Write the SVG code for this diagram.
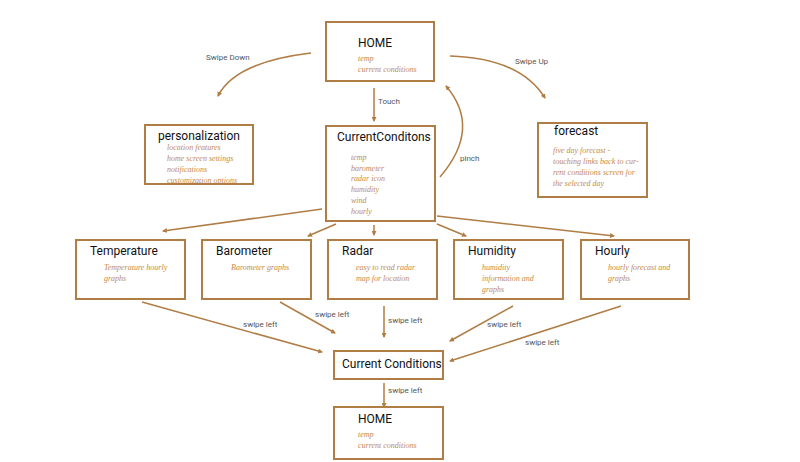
<svg xmlns="http://www.w3.org/2000/svg" width="800" height="462" viewBox="0 0 800 462">
<style>
.box{fill:#ffffff;stroke:#b07d45;stroke-width:2}
.title{font-family:Roboto,"Liberation Sans",sans-serif;font-size:12px;fill:#111111}
.sub{font-family:"Liberation Serif",serif;font-style:italic;font-size:8px;fill:#c28a4e}
.lbl{font-family:Roboto,"Liberation Sans",sans-serif;font-size:8px;fill:#555555}
.con{fill:none;stroke:#b07d45;stroke-width:1.5;marker-end:url(#ah)}
</style>
<defs>
<marker id="ah" viewBox="0 0 10 10" refX="8" refY="5" markerWidth="5" markerHeight="5" orient="auto" markerUnits="userSpaceOnUse">
<path d="M0,0 L10,5 L0,10 z" fill="#b07d45"/>
</marker>
</defs>
<rect width="800" height="462" fill="#ffffff"/>

<g id="connectors">
<path class="con" d="M311,53 Q235,62 218,96"/>
<path class="con" d="M450,56 Q520,58 545,98"/>
<path class="con" d="M440,177 Q482,128 446,86"/>
<path class="con" d="M374,88 L374,121"/>
<path class="con" d="M322,209 L163,231"/>
<path class="con" d="M336,224 L308,236"/>
<path class="con" d="M374,225 L374,235"/>
<path class="con" d="M437,224 L466,236"/>
<path class="con" d="M437,216 L614,236"/>
<path class="con" d="M142,302 L322,352"/>
<path class="con" d="M280,302 L335,333"/>
<path class="con" d="M384,306 L384,337"/>
<path class="con" d="M513,306 L450,341"/>
<path class="con" d="M621,306 L450,361"/>
<path class="con" d="M384,383 L384,407"/>
<text class="lbl" x="206" y="60">Swipe Down</text>
<text class="lbl" x="515" y="64">Swipe Up</text>
<text class="lbl" x="378" y="104">Touch</text>
<text class="lbl" x="460" y="161">pinch</text>
<text class="lbl" x="243" y="327">swipe left</text>
<text class="lbl" x="315" y="317">swipe left</text>
<text class="lbl" x="388" y="323">swipe left</text>
<text class="lbl" x="487" y="327">swipe left</text>
<text class="lbl" x="525" y="345">swipe left</text>
<text class="lbl" x="388" y="393">swipe left</text>
</g>

<g id="home-top">
<rect class="box" x="326" y="22" width="108" height="59"/>
<text class="title" x="358" y="47">HOME</text>
<text class="sub" x="358" y="61">temp</text>
<text class="sub" x="358" y="72">current conditions</text>
</g>

<g id="personalization">
<rect class="box" x="145" y="125" width="108" height="59"/>
<text class="title" x="158" y="140">personalization</text>
<text class="sub" x="167" y="150">location features</text>
<text class="sub" x="167" y="161">home screen settings</text>
<text class="sub" x="167" y="172">notifications</text>
<text class="sub" x="167" y="183">customization options</text>
</g>

<g id="current-conditons">
<rect class="box" x="326" y="126" width="109" height="95"/>
<text class="title" x="337" y="141">CurrentConditons</text>
<text class="sub" x="351" y="160">temp</text>
<text class="sub" x="351" y="171">barometer</text>
<text class="sub" x="351" y="181">radar icon</text>
<text class="sub" x="351" y="192">humidity</text>
<text class="sub" x="351" y="203">wind</text>
<text class="sub" x="351" y="214">hourly</text>
</g>

<g id="forecast">
<rect class="box" x="538" y="123" width="109" height="74"/>
<text class="title" x="554" y="135">forecast</text>
<text class="sub" x="553" y="153">five day forecast -</text>
<text class="sub" x="553" y="164">touching links back to cur-</text>
<text class="sub" x="553" y="175">rent conditions screen for</text>
<text class="sub" x="553" y="186">the  selected day</text>
</g>

<g id="temperature">
<rect class="box" x="76" y="240" width="109" height="59"/>
<text class="title" x="90" y="255">Temperature</text>
<text class="sub" x="104" y="270">Temperature hourly</text>
<text class="sub" x="104" y="281">graphs</text>
</g>

<g id="barometer">
<rect class="box" x="202" y="240" width="109" height="59"/>
<text class="title" x="216" y="255">Barometer</text>
<text class="sub" x="231" y="270">Barometer graphs</text>
</g>

<g id="radar">
<rect class="box" x="328" y="240" width="109" height="59"/>
<text class="title" x="342" y="255">Radar</text>
<text class="sub" x="356" y="270">easy to read radar</text>
<text class="sub" x="356" y="281">map for location</text>
</g>

<g id="humidity">
<rect class="box" x="454" y="240" width="109" height="59"/>
<text class="title" x="468" y="255">Humidity</text>
<text class="sub" x="482" y="270">humidity</text>
<text class="sub" x="482" y="281">information and</text>
<text class="sub" x="482" y="292">graphs</text>
</g>

<g id="hourly">
<rect class="box" x="581" y="240" width="108" height="59"/>
<text class="title" x="595" y="255">Hourly</text>
<text class="sub" x="608" y="270">hourly forecast and</text>
<text class="sub" x="608" y="281">graphs</text>
</g>

<g id="current-conditions">
<rect class="box" x="334" y="351" width="109" height="28"/>
<text class="title" x="342" y="368">Current Conditions</text>
</g>

<g id="home-bottom">
<rect class="box" x="334" y="407" width="109" height="52"/>
<text class="title" x="358" y="423">HOME</text>
<text class="sub" x="358" y="437">temp</text>
<text class="sub" x="358" y="448">current conditions</text>
</g>
</svg>
